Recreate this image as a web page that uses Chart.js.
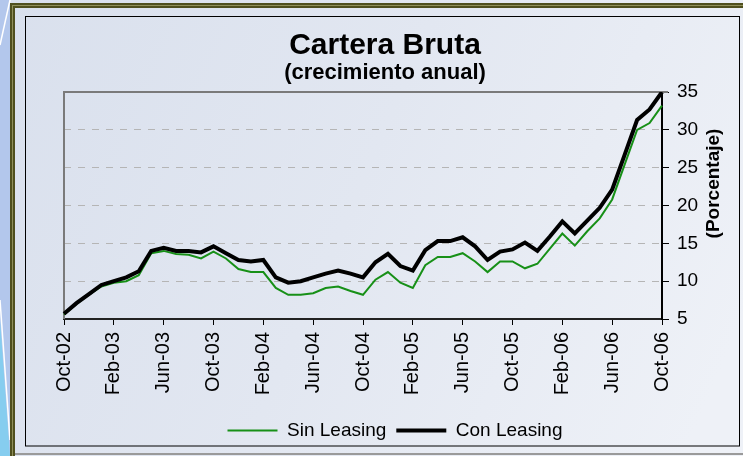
<!DOCTYPE html>
<html>
<head>
<meta charset="utf-8">
<script src="https://cdn.jsdelivr.net/npm/chart.js@4/dist/chart.umd.min.js"></script>
<style>
html,body{margin:0;padding:0;background:#dfe5f0;}
canvas{display:block;}
</style>
</head>
<body>
<canvas id="c" width="743" height="456"></canvas>
<script>
const months = [
  'Oct-02','Nov-02','Dec-02','Jan-03','Feb-03','Mar-03','Apr-03','May-03','Jun-03','Jul-03','Aug-03','Sep-03',
  'Oct-03','Nov-03','Dec-03','Jan-04','Feb-04','Mar-04','Apr-04','May-04','Jun-04','Jul-04','Aug-04','Sep-04',
  'Oct-04','Nov-04','Dec-04','Jan-05','Feb-05','Mar-05','Apr-05','May-05','Jun-05','Jul-05','Aug-05','Sep-05',
  'Oct-05','Nov-05','Dec-05','Jan-06','Feb-06','Mar-06','Apr-06','May-06','Jun-06','Jul-06','Aug-06','Sep-06',
  'Oct-06'
];
const sinLeasing = [
  5.6, 7.0, 8.2, 9.3, 9.8, 10.0, 10.8, 13.7, 14.0, 13.6, 13.5, 13.0,
  13.9, 13.0, 11.6, 11.2, 11.2, 9.1, 8.2, 8.2, 8.4, 9.1, 9.3, 8.7,
  8.2, 10.2, 11.2, 9.8, 9.1, 12.1, 13.2, 13.2, 13.7, 12.6, 11.2, 12.6,
  12.6, 11.7, 12.3, 14.3, 16.3, 14.7, 16.6, 18.3, 20.8, 25.4, 30.0, 30.9,
  33.2
];
const conLeasing = [
  5.7, 7.1, 8.3, 9.5, 10.0, 10.5, 11.3, 14.0, 14.4, 14.0, 14.0, 13.8,
  14.6, 13.7, 12.8, 12.6, 12.8, 10.5, 9.8, 10.0, 10.5, 11.0, 11.4, 11.0,
  10.5, 12.5, 13.6, 12.0, 11.4, 14.1, 15.3, 15.3, 15.8, 14.6, 12.8, 13.9,
  14.2, 15.1, 14.0, 15.9, 17.9, 16.3, 18.0, 19.7, 22.1, 26.7, 31.3, 32.7,
  35.0
];
const seriesNames = ['Sin Leasing', 'Con Leasing'];
const yTicks = { min: 5, max: 35, step: 5 };
const titleText = 'Cartera Bruta';
const subtitleText = '(crecimiento anual)';
const yTitleText = '(Porcentaje)';

const F = "'Liberation Sans', Arial, Helvetica, sans-serif";
Chart.defaults.font.family = F;

const bgPlugin = {
  id: 'bg',
  beforeDraw(chart) {
    const ctx = chart.ctx, w = chart.width, h = chart.height;
    ctx.save();
    const g = ctx.createLinearGradient(0, 0, w, h * 0.7);
    g.addColorStop(0, '#d9e0ed');
    g.addColorStop(0.5, '#e2e7f1');
    g.addColorStop(1, '#eef1f7');
    ctx.fillStyle = g;
    ctx.fillRect(0, 0, w, h);
    // left decorative band
    ctx.fillStyle = '#b3c7ec';
    ctx.fillRect(0, 0, 10, h);
    ctx.fillStyle = '#86cdef';
    ctx.beginPath(); ctx.moveTo(0, 320); ctx.lineTo(10, 456); ctx.lineTo(0, 456); ctx.closePath(); ctx.fill();
    ctx.strokeStyle = '#ffffff'; ctx.lineWidth = 1.5;
    ctx.beginPath(); ctx.moveTo(10, 0); ctx.lineTo(0, 45); ctx.stroke();
    ctx.beginPath(); ctx.moveTo(0, 300); ctx.lineTo(10, 440); ctx.stroke();
    // olive outer frame
    ctx.fillStyle = '#4f4f1e';
    ctx.fillRect(10, 3, w - 10, 5);
    ctx.fillRect(10, 3, 5, h - 3);
    ctx.fillStyle = '#8f8f5a';
    ctx.fillRect(12, 5, w - 12, 1);
    ctx.fillRect(12, 5, 1, h - 5);
    ctx.fillStyle = '#9a9a9a';
    ctx.fillRect(15, 453, w - 15, 2);
    // inner black rectangle
    ctx.strokeStyle = '#000'; ctx.lineWidth = 1;
    ctx.strokeRect(25.5, 16.5, 714, 429.5);
    ctx.restore();
  },
  beforeDatasetsDraw(chart) {
    const ctx = chart.ctx, a = chart.chartArea;
    ctx.save();
    ctx.strokeStyle = '#7a7a7a'; ctx.lineWidth = 2;
    ctx.beginPath();
    ctx.moveTo(a.left, a.bottom); ctx.lineTo(a.left, a.top); ctx.lineTo(a.right + 6, a.top);
    ctx.stroke();
    ctx.restore();
  },
  afterDraw(chart) {
    const ctx = chart.ctx, a = chart.chartArea;
    ctx.save();
    ctx.translate(a.right + 51.5, a.top + 91.5);
    ctx.rotate(-Math.PI / 2);
    ctx.font = 'bold 19px ' + F;
    ctx.fillStyle = '#000';
    ctx.textAlign = 'center';
    ctx.textBaseline = 'middle';
    ctx.fillText(yTitleText, 0, 0);
    ctx.restore();
  },
  afterLayout(chart) {
    chart.boxes.forEach(b => {
      if (b.position === 'top' && !b.axis) { b.left -= 10; b.right -= 10; }
    });
  }
};

new Chart(document.getElementById('c'), {
  type: 'line',
  data: {
    labels: months,
    datasets: [
      { label: seriesNames[0], data: sinLeasing, borderColor: '#179017', backgroundColor: '#179017',
        pointBorderColor: '#179017', pointBorderWidth: 2, borderWidth: 2, pointRadius: 0, tension: 0, order: 1 },
      { label: seriesNames[1], data: conLeasing, borderColor: '#000000', backgroundColor: '#000000',
        pointBorderColor: '#000000', pointBorderWidth: 4, borderWidth: 4, pointRadius: 0, tension: 0, order: 0 }
    ]
  },
  options: {
    responsive: false,
    animation: false,
    devicePixelRatio: 1,
    layout: { padding: { left: 64, right: 17, top: 0, bottom: 6 } },
    plugins: {
      title: { display: true, text: titleText, color: '#000',
        font: { family: F, size: 30, weight: 'bold', lineHeight: 1 }, padding: { top: 31, bottom: 1 } },
      subtitle: { display: true, text: subtitleText, color: '#000',
        font: { family: F, size: 22, weight: 'bold', lineHeight: 1 }, padding: { top: 0, bottom: 8 } },
      legend: { position: 'bottom',
        labels: { usePointStyle: true, pointStyle: 'line', pointStyleWidth: 50, color: '#000',
          font: { family: F, size: 19 }, padding: 10,
          sort: (a, b) => a.datasetIndex - b.datasetIndex } },
      tooltip: { enabled: false }
    },
    scales: {
      x: {
        type: 'category', offset: false,
        grid: { drawOnChartArea: false, drawTicks: true, tickLength: 6, color: 'transparent',
          tickColor: (c) => (c.index % 4 === 0 ? '#000' : 'transparent'), tickWidth: 1 },
        border: { display: true, color: '#222', width: 2 },
        ticks: { autoSkip: false, maxRotation: 90, minRotation: 90, padding: 7, color: '#000',
          font: { family: F, size: 20 },
          callback: function (v, i) { return i % 4 === 0 ? this.getLabelForValue(v) : ''; } },
        afterFit: (s) => { s.height = 92; s.paddingLeft = 0; s.paddingRight = 0; }
      },
      y: {
        position: 'right', min: yTicks.min, max: yTicks.max,
        ticks: { stepSize: yTicks.step, padding: 8, color: '#000', font: { family: F, size: 19 } },
        grid: { color: (c) => (c.tick && (c.tick.value === yTicks.min || c.tick.value === yTicks.max)) ? 'transparent' : '#b5b5b5',
          lineWidth: 1, tickColor: '#000', tickLength: 7, tickWidth: 1, tickBorderDash: [] },
        border: { display: true, color: '#000', width: 2, dash: [7, 7] },
        afterFit: (s) => { s.width = 64; }
      }
    }
  },
  plugins: [bgPlugin]
});
</script>
</body>
</html>
